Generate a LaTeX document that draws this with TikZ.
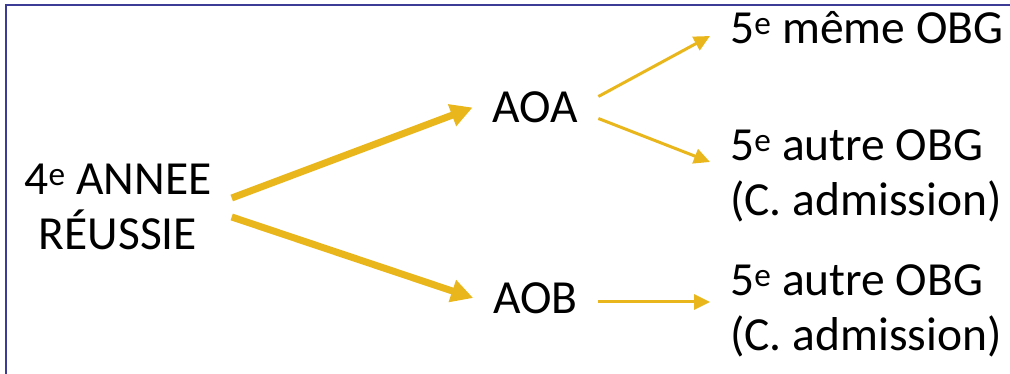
\documentclass[tikz,border=0pt]{standalone}
\usepackage{fontspec}
\setmainfont{Carlito}
\usetikzlibrary{arrows.meta,positioning}
\definecolor{gold}{RGB}{233,183,27}
\definecolor{frameblue}{RGB}{60,60,150}
\tikzset{
  label text/.style={font=\fontsize{47.5}{55}\selectfont, inner xsep=20pt, inner ysep=0pt},
  big arrow/.style={gold, line width=7pt, -{Triangle[length=22pt,width=22pt]}},
  small arrow/.style={gold, line width=3pt, -{Triangle[length=16pt,width=15pt]}},
}
\begin{document}
\begin{tikzpicture}[x=1pt,y=-1pt]
	\useasboundingbox (0,0) rectangle (1010,374);
	\draw[frameblue, line width=2pt] (6,374) -- (6,5) -- (1010,5);
	
	\node[label text, align=center] (annee) at (118,207) {4\textsuperscript{e} ANNEE\\RÉUSSIE};
	\node[label text] (aoa) at (535.5,107.5) {AOA};
	\node[label text] (aob) at (535.5,298) {AOB};
	\node[label text, anchor=west] (meme) at (710,28) {5\textsuperscript{e} même OBG};
	\node[label text, anchor=west, align=left] (autreA) at (710,176) {5\textsuperscript{e} autre OBG\\(C. admission)};
	\node[label text, anchor=west, align=left] (autreB) at (710,311) {5\textsuperscript{e} autre OBG\\(C. admission)};
	
	\draw[big arrow] ([yshift=9pt]annee.east) -- (aoa.west);
	\draw[big arrow] ([yshift=-10pt]annee.east) -- (aob.west);
	\draw[small arrow] ([yshift=11pt]aoa.east) -- ([yshift=-8pt]meme.west);
	\draw[small arrow] ([yshift=-11pt]aoa.east) -- ([yshift=14pt]autreA.west);
	\draw[small arrow] ([yshift=-4pt]aob.east) -- ([yshift=-4pt]aob.east -| autreB.west);
\end{tikzpicture}
\end{document}
